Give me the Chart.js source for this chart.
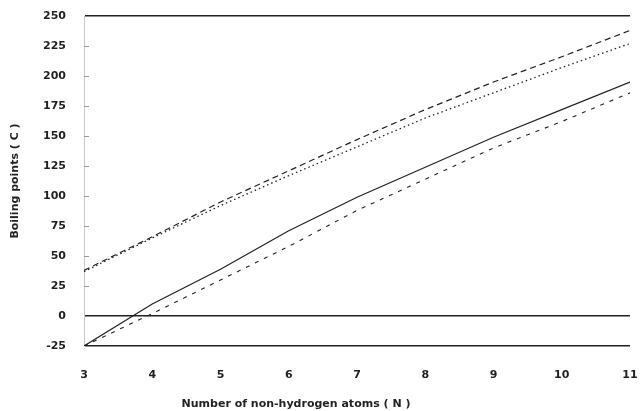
<!DOCTYPE html>
<html>
<head>
<meta charset="utf-8">
<script src="https://cdn.jsdelivr.net/npm/chart.js@4/dist/chart.umd.min.js"></script>
<style>
  html, body { margin: 0; padding: 0; background: #fff; }
  #wrap { width: 640px; height: 411px; }
</style>
</head>
<body>
<div id="wrap"><canvas id="bpChart"></canvas></div>
<script>
// number of non-hydrogen atoms
const atoms = [3, 4, 5, 6, 7, 8, 9, 10, 11];
// boiling points (C)
const upperDashed = [38, 66, 95, 121, 147, 172, 195, 216, 238];
const dotted = [37, 65, 92, 117, 141, 165, 186, 207, 227];
const solid = [-25, 10, 39, 71, 99, 124, 149, 172, 195];
const lowerDashed = [-25, 2, 30, 58, 88, 114, 140, 162, 186];

const xTitle = 'Number of non-hydrogen atoms ( N )';
const yTitle = 'Boiling points ( C )';
const ink = '#222';
const font = { family: 'DejaVu Sans', size: 11, weight: 'bold' };

const toPoints = vals => vals.map((v, i) => ({ x: atoms[i], y: v }));

function series(vals, dash, width) {
  return {
    data: toPoints(vals),
    borderColor: ink,
    borderWidth: width,
    borderDash: dash,
    pointRadius: 0,
    tension: 0,
    fill: false
  };
}

// small inward ticks on the left axis and the x axis title
const decorations = {
  id: 'decorations',
  afterDraw(chart) {
    const ctx = chart.ctx;
    const y = chart.scales.y;
    const area = chart.chartArea;
    ctx.save();
    ctx.strokeStyle = '#999';
    ctx.lineWidth = 1;
    y.ticks.forEach(t => {
      if ([250, 0, -25].includes(t.value)) return;
      const py = Math.round(y.getPixelForValue(t.value)) + 0.5;
      ctx.beginPath();
      ctx.moveTo(area.left, py);
      ctx.lineTo(area.left + 5, py);
      ctx.stroke();
    });
    ctx.fillStyle = ink;
    ctx.font = 'bold 11px "DejaVu Sans"';
    ctx.textAlign = 'center';
    ctx.textBaseline = 'middle';
    ctx.fillText(xTitle, 296, 404);
    ctx.restore();
  }
};

new Chart(document.getElementById('bpChart'), {
  type: 'line',
  data: {
    datasets: [
      series(upperDashed, [6, 4], 1.2),
      series(dotted, [1.5, 3], 1.3),
      series(solid, [], 1.2),
      series(lowerDashed, [4, 6], 1.1)
    ]
  },
  options: {
    responsive: true,
    maintainAspectRatio: false,
    animation: false,
    layout: { padding: { top: 16, right: 10, left: 0, bottom: 0 } },
    plugins: { legend: { display: false }, tooltip: { enabled: false } },
    scales: {
      x: {
        type: 'linear',
        min: 3,
        max: 11,
        ticks: { stepSize: 1, color: ink, font: font, padding: 23 },
        grid: { display: false, drawTicks: false },
        border: { display: false },
        afterFit: s => { s.height = 65; s.paddingLeft = 0; s.paddingRight = 0; }
      },
      y: {
        min: -25,
        max: 250,
        ticks: { stepSize: 25, color: ink, font: font, padding: 18 },
        grid: {
          drawTicks: false,
          lineWidth: 1.4,
          color: c => [250, 0, -25].includes(c.tick.value) ? ink : 'rgba(0,0,0,0)'
        },
        border: { display: true, color: '#c8c8c8', width: 1 },
        title: { display: true, text: yTitle, color: ink, font: font, padding: { top: 9, bottom: 0 } },
        afterFit: s => { s.width = 84; s.paddingTop = 0; s.paddingBottom = 0; }
      }
    }
  },
  plugins: [decorations]
});
</script>
</body>
</html>
